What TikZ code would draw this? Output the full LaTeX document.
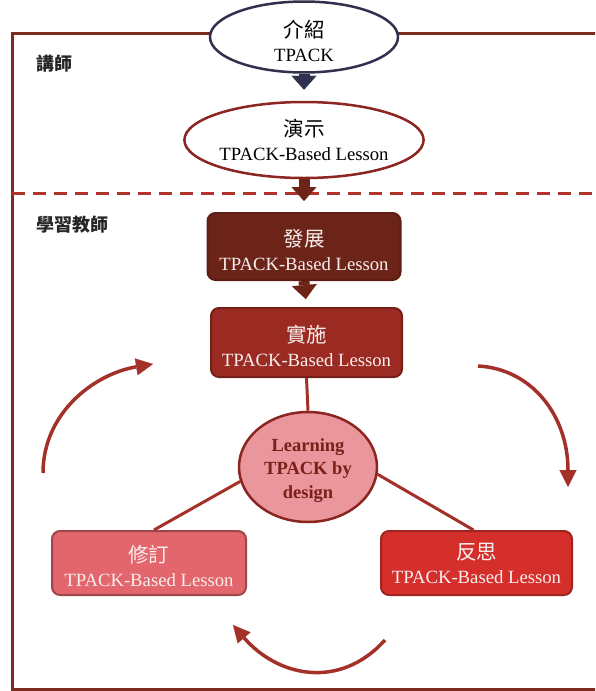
\documentclass[tikz,border=0pt]{standalone}
\usepackage{fontspec}
\setmainfont{Liberation Serif}
\newfontfamily\cjk{Noto Sans CJK TC}
\usetikzlibrary{arrows.meta,shapes.geometric}

\definecolor{framecol}{HTML}{7B2B1F}
\definecolor{dashcol}{HTML}{B0342C}
\definecolor{navy}{HTML}{30304F}
\definecolor{ellred}{HTML}{8B2520}
\definecolor{maroon}{HTML}{6E2317}
\definecolor{devfill}{HTML}{6C2418}
\definecolor{implfill}{HTML}{9B2B22}
\definecolor{hubfill}{HTML}{E9979D}
\definecolor{hubtext}{HTML}{7A1F1A}
\definecolor{revfill}{HTML}{E2666B}
\definecolor{reflfill}{HTML}{D42F2B}
\definecolor{linkcol}{HTML}{A33029}
\definecolor{boxtext}{HTML}{F8EEEE}

% two-line label: Chinese title over an English line; the optional
% argument is the height of a strut that lowers the text in its shape
\newcommand{\twolines}[3][0pt]{{\cjk\fontsize{20.5}{24}\selectfont
  \rule{0pt}{#1}#2}\\#3}

\begin{document}
\begin{tikzpicture}[x=1pt,y=-1pt,
  base/.style={align=center, inner sep=0pt,
    font=\fontsize{18.7}{24}\selectfont},
  ellbox/.style={base, ellipse, fill=white, line width=2.5pt},
  stepbox/.style={base, rectangle, rounded corners=8pt, line width=2pt,
    text=boxtext},
  hub/.style={base, ellipse, draw=ellred, fill=hubfill, line width=2.5pt,
    text=hubtext, font=\bfseries\fontsize{18.5}{23.5}\selectfont},
  role/.style={inner sep=0pt, font=\cjk\bfseries\fontsize{18}{22}\selectfont,
    text=black!85},
  blockarrow/.style={line width=11pt,
    -{Triangle[length=14pt,width=25pt,line width=0.1pt]}},
  link/.style={draw=linkcol, line width=3pt},
  cyc/.style={draw=linkcol, line width=3.5pt,
    -{Triangle[length=17pt,width=17pt,line width=0.1pt]}}
]
\useasboundingbox (0,0) rectangle (595,691);
\clip (0,0) rectangle (595,691);

% outer frame and the dashed divider between the two roles
\draw[framecol, line width=3pt] (12,33) rectangle (640,689.5);
\draw[dashcol, line width=3pt, dash pattern=on 13pt off 8pt] (12,193) -- (600,193);

% role labels
\node[role] (lecturer) at (54,64) {講師};
\node[role] (learners) at (72,225) {學習教師};

% lecturer part
\node[ellbox, draw=navy, minimum width=188pt, minimum height=60pt]
  (intro) at (304,37) {\twolines[26pt]{介紹}{TPACK}};
\node[ellbox, draw=ellred, minimum width=230pt, minimum height=76pt]
  (demo) at (304,140) {\twolines{演示}{TPACK-Based Lesson}};

% learner part
\node[stepbox, fill=devfill, draw=maroon!85!black,
  minimum width=193pt, minimum height=67pt]
  (dev) at (304,246.5) {\twolines[25pt]{發展}{TPACK-Based Lesson}};
\node[stepbox, fill=implfill, draw=implfill!75!black,
  minimum width=191pt, minimum height=69pt]
  (impl) at (306.5,342.5) {\twolines[23.5pt]{實施}{TPACK-Based Lesson}};
\node[hub, minimum width=138pt, minimum height=110pt]
  (hubnode) at (308,467) {\rule{0pt}{19.5pt}Learning\\TPACK by\\design};
\node[stepbox, fill=revfill, draw=revfill!70!black,
  minimum width=194pt, minimum height=64pt]
  (rev) at (149,563) {\twolines[24pt]{修訂}{TPACK-Based Lesson}};
\node[stepbox, fill=reflfill, draw=reflfill!75!black,
  minimum width=191pt, minimum height=64pt]
  (refl) at (476.5,563) {\twolines{反思}{TPACK-Based Lesson}};

% block arrows down the column
\draw[blockarrow, navy, shorten >=11pt] (intro.south) -- (demo.north);
\draw[blockarrow, maroon, shorten >=11pt] (demo.south) -- (dev.north);
\draw[blockarrow, maroon, shorten >=8pt] (dev.south) -- (impl.north);

% spokes from the hub
\draw[link] (impl.south) -- (hubnode.north);
\draw[link] (hubnode.192) -- ([xshift=5pt]rev.north);
\draw[link] (hubnode.-6) -- ([xshift=-3pt]refl.north);

% cycle arrows around the hub
\coordinate (l1) at (43,473);
\coordinate (l2) at (153,364);
\coordinate (r1) at (478,366);
\coordinate (r2) at (568,487);
\coordinate (b1) at (385,640);
\coordinate (b2) at (233,625);
\draw[cyc] (l1) .. controls +(0,-60) and +(-59,10) .. (l2);
\draw[cyc] (r1) .. controls +(55,3) and +(0,-70) .. (r2);
\draw[cyc] (b1) .. controls +(-45,50) and +(45,52) .. (b2);
\end{tikzpicture}
\end{document}
